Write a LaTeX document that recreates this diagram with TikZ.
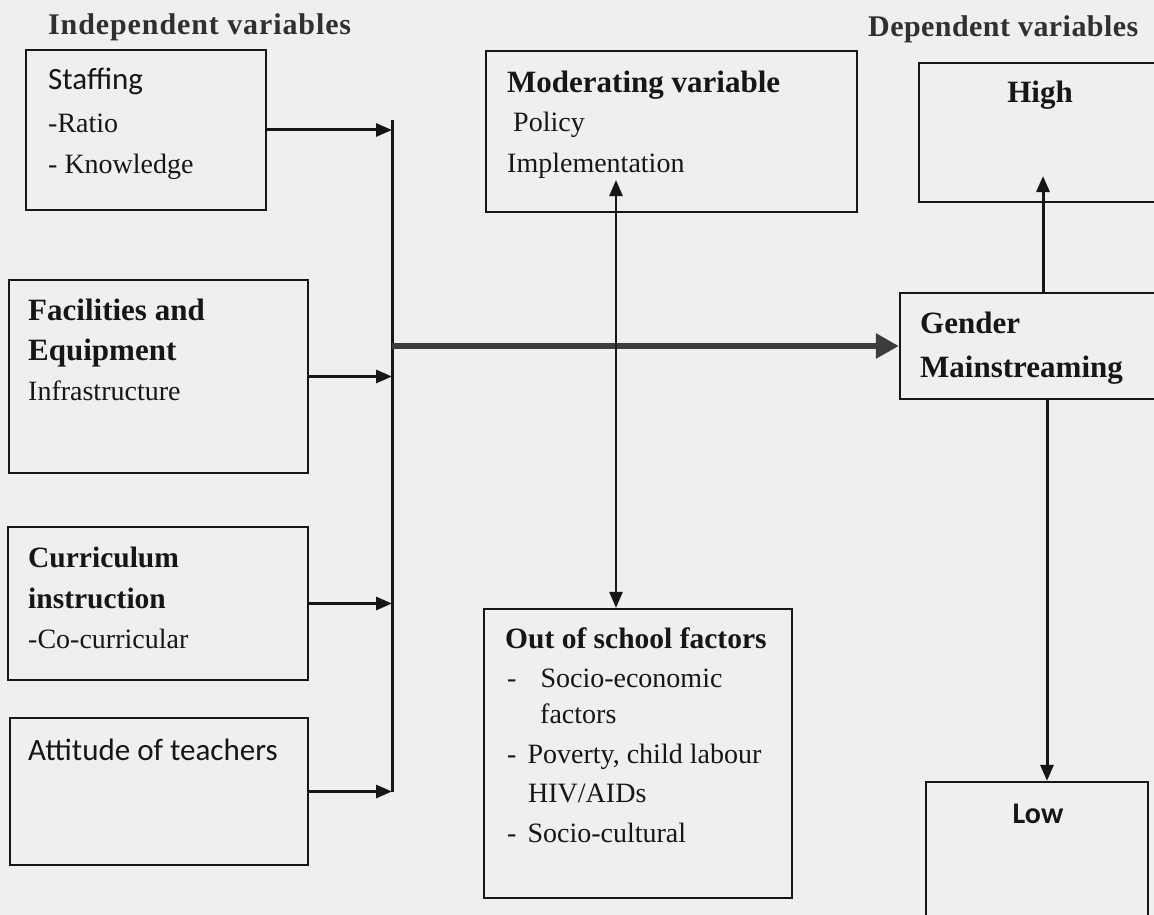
\documentclass[tikz,border=0pt]{standalone}
\usepackage{fontspec}
\setmainfont{Liberation Serif}
\newfontfamily\calfam{Carlito}
\usetikzlibrary{arrows.meta}
\definecolor{bg}{RGB}{239,239,239}
\definecolor{ink}{RGB}{22,22,22}
\definecolor{ttl}{RGB}{48,48,48}
\definecolor{thickc}{RGB}{60,60,60}
\newcommand\HdFont{\fontsize{31}{37}\selectfont\bfseries}
\newcommand\HdsFont{\fontsize{29.5}{36}\selectfont\bfseries}
\newcommand\RgFont{\fontsize{28}{34}\selectfont}
\newcommand\CaFont{\calfam\fontsize{31}{37}\selectfont}
\newcommand\CabFont{\calfam\fontsize{30}{36}\selectfont\bfseries}
\newcommand\TtFont{\fontsize{30}{36}\selectfont\bfseries}
\begin{document}
\begin{tikzpicture}[x=1pt,y=-1pt,
  box/.style={draw=ink, line width=2.3pt, inner sep=0pt, rectangle},
  txt/.style={anchor=base west, inner sep=0pt, text=ink},
  ctxt/.style={anchor=base, inner sep=0pt, text=ink},
  arr/.style={draw=ink, line width=3pt, -{Triangle[length=16pt,width=13pt]}},
  darr/.style={draw=ink, line width=2.6pt, {Triangle[length=16pt,width=13pt]}-{Triangle[length=16pt,width=13pt]}},
  thickarr/.style={draw=thickc, line width=6pt, -{Triangle[length=23pt,width=24pt]}}
]
\fill[bg] (0,0) rectangle (1154,915);
\useasboundingbox (0,0) rectangle (1154,915);
\clip (0,0) rectangle (1154,915);

% titles
\node[txt, text=ttl] (t1) at (48,35) {\TtFont\addfontfeature{LetterSpace=3} Independent variables};
\node[txt, text=ttl] (t2) at (868,37) {\TtFont\addfontfeature{LetterSpace=1.5} Dependent variables};

% boxes
\node[box, minimum width=240pt, minimum height=160pt] (staff) at (146,130) {};
\node[box, minimum width=371pt, minimum height=161pt] (mod) at (671.5,131.5) {};
\node[box, minimum width=251pt, minimum height=139pt] (high) at (1044.5,132.5) {};
\node[box, minimum width=299pt, minimum height=193pt] (fac) at (158.5,376.5) {};
\node[box, minimum width=270pt, minimum height=106pt] (gender) at (1035,346) {};
\node[box, minimum width=300pt, minimum height=153pt] (cur) at (158,603.5) {};
\node[box, minimum width=298pt, minimum height=147pt] (att) at (159,791.5) {};
\node[box, minimum width=308pt, minimum height=289pt] (out) at (638,753.5) {};
\node[box, minimum width=222pt, minimum height=158pt] (low) at (1037,861) {};

% texts
\node[txt] (s1) at (48,90) {\CaFont Staffing};
\node[txt] (s2) at (48,133) {\RgFont -Ratio};
\node[txt] (s3) at (48,173) {\RgFont - Knowledge};

\node[txt] (m1) at (507,93) {\HdFont Moderating variable};
\node[txt] (m2) at (513,132) {\RgFont Policy};
\node[txt] (m3) at (507,172) {\RgFont Implementation};

\node[ctxt] (h1) at (1040,103) {\HdFont High};

\node[txt] (f1) at (28,320) {\HdFont Facilities and};
\node[txt] (f2) at (28,360) {\HdFont Equipment};
\node[txt] (f3) at (28,400) {\RgFont Infrastructure};

\node[txt] (g1) at (920,333) {\HdFont Gender};
\node[txt] (g2) at (920,377) {\HdFont Mainstreaming};

\node[txt] (c1) at (28,567) {\HdsFont Curriculum};
\node[txt] (c2) at (28,608) {\HdsFont instruction};
\node[txt] (c3) at (28,648) {\RgFont -Co-curricular};

\node[txt] (a1) at (28,760) {\CaFont Attitude of teachers};

\node[txt] (o1) at (505,648) {\HdsFont Out of school factors};
\node[txt] (o2) at (507,687) {\RgFont -\hspace{24pt}Socio-economic};
\node[txt] (o3) at (540,723) {\RgFont factors};
\node[txt] (o4) at (507,763) {\RgFont -\hspace{11pt}Poverty, child labour};
\node[txt] (o5) at (528,802) {\RgFont HIV/AIDs};
\node[txt] (o6) at (507,842) {\RgFont -\hspace{11pt}Socio-cultural};

\node[ctxt] (l1) at (1038,823) {\CabFont Low};

% connector helper coordinates
\coordinate (vtop) at (392,120);
\coordinate (vbot) at (392,792);
\coordinate (modtip) at (616,180);
\coordinate (hightip) at (1043,176);
\coordinate (lowx) at (1047,0);

% vertical collector line
\draw[draw=ink, line width=3pt] (vtop) -- (vbot);

% arrows into collector
\draw[arr] (staff.east) -- (staff.east -| vtop);
\draw[arr] (fac.east) -- (fac.east -| vtop);
\draw[arr] (cur.east) -- (cur.east -| vtop);
\draw[arr] (att.east) -- (att.east -| vtop);

% thick arrow to gender mainstreaming
\draw[thickarr] (gender.west -| vtop) -- (gender.west);

% moderating <-> out of school
\draw[darr] (modtip) -- (modtip |- out.north);

% gender -> high / low
\draw[arr] (hightip |- gender.north) -- (hightip);
\draw[arr] (lowx |- gender.south) -- (lowx |- low.north);
\end{tikzpicture}
\end{document}
